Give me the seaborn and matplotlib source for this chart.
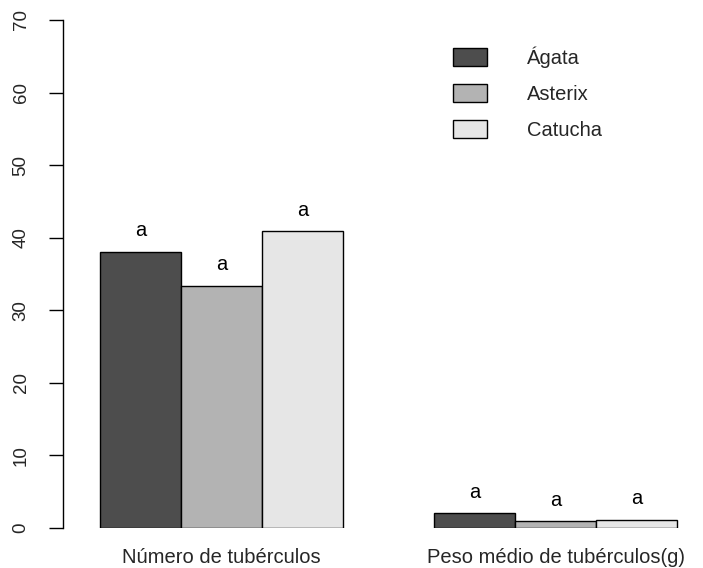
import matplotlib
matplotlib.use("Agg")
import matplotlib.pyplot as plt
import seaborn as sns
import pandas as pd

# Dados: médias por cultivar
grupos = ["Número de tubérculos", "Peso médio de tubérculos(g)"]
cultivares = ["Ágata", "Asterix", "Catucha"]
numero_tuberculos = [38.1, 33.4, 40.9]
peso_medio = [2.0, 0.9, 1.1]
letras_numero = ["a", "a", "a"]
letras_peso = ["a", "a", "a"]
cores = ["#4d4d4d", "#b3b3b3", "#e6e6e6"]

df = pd.DataFrame({
    "grupo": [grupos[0]] * 3 + [grupos[1]] * 3,
    "cultivar": cultivares * 2,
    "valor": numero_tuberculos + peso_medio,
})
letras = {grupos[0]: letras_numero, grupos[1]: letras_peso}

sns.set_style("white")
plt.rcParams["font.family"] = ["Liberation Sans", "DejaVu Sans"]

fs = 14.5

fig = plt.figure(figsize=(7.03, 5.68), dpi=100)
ax = fig.add_axes([63 / 703, 40 / 568, 637 / 703, 508 / 568])

sns.barplot(data=df, x="grupo", y="valor", hue="cultivar", order=grupos,
            hue_order=cultivares, palette=cores, saturation=1, width=0.728,
            errorbar=None, edgecolor="black", linewidth=1, ax=ax)

# Letras de significância acima de cada barra
for i, cont in enumerate(ax.containers):
    for j, patch in enumerate(cont.patches):
        xc = patch.get_x() + patch.get_width() / 2
        h = patch.get_height()
        ax.text(xc, h + 2.9, letras[grupos[j]][i], ha="center", va="center",
                fontsize=fs, color="black")

ax.set_ylim(0, 70)
ax.set_xlim(-0.4746, 1.4326)
ax.set_yticks(range(0, 71, 10))
ax.set_xlabel("")
ax.set_ylabel("")

for s in ["top", "right", "bottom"]:
    ax.spines[s].set_visible(False)
ax.spines["left"].set_color("black")
ax.spines["left"].set_linewidth(1)

ax.tick_params(axis="y", left=True, length=10, width=1, color="black",
               pad=14, labelsize=13.5, labelrotation=90)
for lab in ax.get_yticklabels():
    lab.set_va("center")
ax.tick_params(axis="x", bottom=False, length=0, pad=14.5, labelsize=fs)

handles, labels = ax.get_legend_handles_labels()
ax.legend(handles, labels, loc="upper left", bbox_to_anchor=(453 / 703, 1 - 46 / 568),
          bbox_transform=fig.transFigure, frameon=False, fontsize=fs,
          handlelength=1.69, handleheight=1.0, handletextpad=2.0,
          labelspacing=0.8, borderaxespad=0, borderpad=0)

fig.savefig("out.png", dpi=100)
